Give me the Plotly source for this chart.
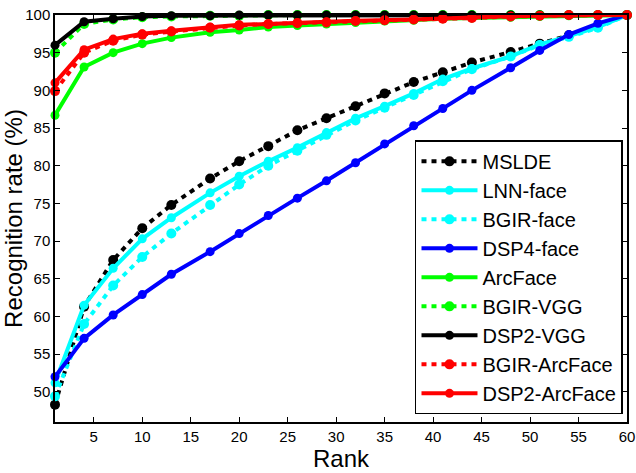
import plotly.graph_objects as go

rank = [1, 4, 7, 10, 13, 17, 20, 23, 26, 29, 32, 35, 38, 41, 44, 48, 51, 54, 57, 60]

mslde = [48.3, 61.3, 67.5, 71.7, 74.8, 78.3, 80.6, 82.6, 84.7, 86.3, 87.9, 89.6, 91.1, 92.4, 93.7, 95.1, 96.2, 97.3, 98.6, 100.0]
lnn_face = [51.2, 61.5, 66.4, 70.3, 73.1, 76.4, 78.6, 80.6, 82.4, 84.4, 86.3, 87.9, 89.6, 91.5, 92.9, 94.5, 96.1, 97.2, 98.4, 100.0]
bgir_face = [49.4, 59.0, 64.1, 67.9, 71.0, 74.8, 77.5, 80.0, 82.0, 84.1, 86.0, 87.7, 89.4, 91.2, 92.8, 94.5, 96.0, 97.1, 98.3, 100.0]
dsp4_face = [52.0, 57.1, 60.2, 62.9, 65.6, 68.6, 71.0, 73.4, 75.7, 78.0, 80.4, 82.9, 85.3, 87.6, 90.0, 93.0, 95.3, 97.4, 98.9, 100.0]
arcface = [86.7, 93.1, 95.0, 96.2, 97.0, 97.7, 98.0, 98.4, 98.6, 98.8, 99.0, 99.2, 99.3, 99.5, 99.6, 99.7, 99.8, 99.9, 100.0, 100.0]
bgir_vgg = [95.0, 98.8, 99.4, 99.7, 99.8, 99.9, 99.9, 100.0, 100.0, 100.0, 100.0, 100.0, 100.0, 100.0, 100.0, 100.0, 100.0, 100.0, 100.0, 100.0]
dsp2_vgg = [96.0, 99.1, 99.5, 99.8, 99.9, 99.9, 100.0, 100.0, 100.0, 100.0, 100.0, 100.0, 100.0, 100.0, 100.0, 100.0, 100.0, 100.0, 100.0, 100.0]
bgir_arcface = [89.9, 95.0, 96.6, 97.4, 97.8, 98.3, 98.6, 98.8, 98.9, 99.0, 99.2, 99.3, 99.4, 99.5, 99.6, 99.8, 99.9, 100.0, 100.0, 100.0]
dsp2_arcface = [91.0, 95.4, 96.8, 97.5, 97.9, 98.4, 98.7, 98.8, 99.0, 99.1, 99.25, 99.3, 99.4, 99.55, 99.7, 99.85, 99.9, 100.0, 100.0, 100.0]

series = [
    ("MSLDE", mslde, "#000000", "dot"),
    ("LNN-face", lnn_face, "#00ffff", "solid"),
    ("BGIR-face", bgir_face, "#00ffff", "dot"),
    ("DSP4-face", dsp4_face, "#0000ff", "solid"),
    ("ArcFace", arcface, "#00ff00", "solid"),
    ("BGIR-VGG", bgir_vgg, "#00ff00", "dot"),
    ("DSP2-VGG", dsp2_vgg, "#000000", "solid"),
    ("BGIR-ArcFace", bgir_arcface, "#ff0000", "dot"),
    ("DSP2-ArcFace", dsp2_arcface, "#ff0000", "solid"),
]

fig = go.Figure()
for name, vals, color, dash in series:
    fig.add_trace(go.Scatter(
        x=rank, y=vals, name=name, mode="lines+markers",
        line=dict(color=color, width=4, dash="5px,5px" if dash == "dot" else "solid"),
        marker=dict(color=color, size=10 if dash == "dot" else 9),
        cliponaxis=False,
    ))

font_family = "Liberation Sans, Arial, sans-serif"
fig.update_layout(
    width=636, height=473,
    margin=dict(l=55, r=9, t=15, b=51, autoexpand=False),
    paper_bgcolor="white", plot_bgcolor="white",
    font=dict(family=font_family, color="black", size=15),
    showlegend=True,
    legend=dict(
        x=0.993, y=0.692, xanchor="right", yanchor="top",
        bgcolor="white", bordercolor="black", borderwidth=1.5,
        font=dict(size=20, family=font_family, color="black"),
        itemwidth=56, tracegroupgap=0,
    ),
    xaxis=dict(
        range=[1, 60], tickvals=[5, 10, 15, 20, 25, 30, 35, 40, 45, 50, 55, 60],
        ticks="inside", ticklen=5, tickwidth=1, tickcolor="black",
        showline=True, linecolor="black", linewidth=1.5, mirror="ticks",
        showgrid=False, zeroline=False,
        tickfont=dict(size=15),
        title=dict(text="Rank", font=dict(size=24), standoff=6),
    ),
    yaxis=dict(
        range=[46, 100], tickvals=[50, 55, 60, 65, 70, 75, 80, 85, 90, 95, 100],
        ticks="inside", ticklen=5, tickwidth=1, tickcolor="black",
        showline=True, linecolor="black", linewidth=1.5, mirror="ticks",
        showgrid=False, zeroline=False,
        tickfont=dict(size=15),
        title=dict(text="Recognition rate (%)", font=dict(size=24), standoff=0),
    ),
)

fig.write_html("out.html", config={"displayModeBar": False},
               post_script="document.body.style.margin='0px';")
